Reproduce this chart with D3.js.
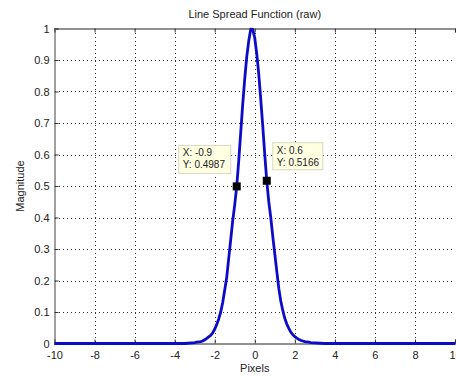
<!DOCTYPE html>
<html><head><meta charset="utf-8">
<script src="https://cdn.jsdelivr.net/npm/d3@7"></script>
<style>
html,body{margin:0;padding:0;background:#fff;}
svg{display:block;}
text{font-family:"Liberation Sans",Arial,sans-serif;fill:#222;}
</style></head>
<body>
<script>
// ---- data ----
const pixels = [-10,-3.5,-3.0,-2.9,-2.8,-2.7,-2.6,-2.5,-2.4,-2.3,-2.2,-2.1,-2.0,-1.9,-1.8,-1.7,-1.6,-1.5,-1.4,-1.3,-1.2,-1.1,-1.0,-0.9,-0.8,-0.7,-0.6,-0.5,-0.4,-0.3,-0.2,-0.1,0.0,0.1,0.2,0.3,0.4,0.5,0.6,0.7,0.8,0.9,1.0,1.1,1.2,1.3,1.4,1.5,1.6,1.7,1.8,1.9,2.0,2.1,2.2,2.3,2.4,2.5,2.6,2.7,2.8,3.5,10];
const magnitude = [0,0,0.003,0.004,0.005,0.006,0.008,0.012,0.016,0.021,0.026,0.034,0.045,0.06,0.078,0.10,0.13,0.17,0.21,0.27,0.33,0.39,0.44,0.4987,0.58,0.67,0.76,0.84,0.91,0.96,0.998,0.997,0.97,0.92,0.855,0.775,0.69,0.60,0.5166,0.45,0.40,0.34,0.285,0.23,0.175,0.135,0.105,0.08,0.062,0.048,0.036,0.028,0.022,0.017,0.013,0.010,0.008,0.006,0.005,0.004,0.003,0,0];
const xTicks = [-10,-8,-6,-4,-2,0,2,4,6,8,10];
const yTicks = [0,0.1,0.2,0.3,0.4,0.5,0.6,0.7,0.8,0.9,1];
const tipX = [-0.9, 0.6];
const tipY = [0.4987, 0.5166];
const title = "Line Spread Function (raw)";
const xLabel = "Pixels";
const yLabel = "Magnitude";

// ---- layout ----
const W = 456, H = 377;
const L = 54.5, R = 455, T = 28.5, B = 343.5;
const svg = d3.select("body").append("svg").attr("width", W).attr("height", H);
const x = d3.scaleLinear().domain([-10, 10]).range([L, R]);
const y = d3.scaleLinear().domain([0, 1]).range([B, T]);

svg.append("rect").attr("x", L).attr("y", T).attr("width", R - L).attr("height", B - T).attr("fill", "#fff");

// grid
const grid = svg.append("g").attr("stroke", "#333").attr("stroke-width", 1).attr("stroke-dasharray", "1,3").attr("shape-rendering", "crispEdges");
grid.selectAll(".gx").data(xTicks.filter(d => d > -10 && d < 10)).enter().append("line")
  .attr("x1", d => Math.round(x(d)) + 0.5).attr("x2", d => Math.round(x(d)) + 0.5).attr("y1", T).attr("y2", B);
grid.selectAll(".gy").data(yTicks.filter(d => d > 0 && d < 1)).enter().append("line")
  .attr("y1", d => Math.round(y(d)) + 0.5).attr("y2", d => Math.round(y(d)) + 0.5).attr("x1", L).attr("x2", R);

// axes
const axCol = "#6e6e6e";
const xAx = svg.append("g").attr("transform", `translate(0,${B})`)
  .call(d3.axisBottom(x).tickValues(xTicks).tickSize(-4).tickPadding(8).tickFormat(d => String(d)));
const xAxTop = svg.append("g").attr("transform", `translate(0,${T})`)
  .call(d3.axisTop(x).tickValues(xTicks).tickSize(-4).tickFormat(""));
const yAx = svg.append("g").attr("transform", `translate(${L},0)`)
  .call(d3.axisLeft(y).tickValues(yTicks).tickSize(-4).tickPadding(5).tickFormat(d => d === 0 || d === 1 ? String(d) : d.toFixed(1)));
[xAx, xAxTop, yAx].forEach(g => {
  g.select(".domain").attr("stroke", axCol).attr("stroke-width", 1.3);
  g.selectAll(".tick line").attr("stroke", "#333");
  g.selectAll("text").attr("font-size", 11).attr("font-family", '"Liberation Sans",Arial,sans-serif').attr("fill", "#222");
});

// line
const line = d3.line().x((d, i) => x(pixels[i])).y((d, i) => y(magnitude[i]));
svg.append("path").datum(magnitude).attr("d", line).attr("fill", "none")
  .attr("stroke", "#0c0cc8").attr("stroke-width", 2.8).attr("stroke-linejoin", "round");

// data tips
const tips = tipX.map((v, i) => ({ x: v, y: tipY[i] }));
const boxOff = [{ dx: -58, dy: -41, w: 52, h: 28 }, { dx: 6, dy: -38, w: 50, h: 27 }];
tips.forEach((t, i) => {
  const px = x(t.x), py = y(t.y), o = boxOff[i];
  const g = svg.append("g");
  g.append("rect").attr("x", px + o.dx).attr("y", py + o.dy).attr("width", o.w).attr("height", o.h)
    .attr("fill", "#ffffe1").attr("stroke", "#d8d8c0").attr("stroke-width", 1);
  g.append("text").attr("x", px + o.dx + 4).attr("y", py + o.dy + 11).attr("font-size", 10).text("X: " + t.x);
  g.append("text").attr("x", px + o.dx + 4).attr("y", py + o.dy + 23).attr("font-size", 10).text("Y: " + t.y);
  g.append("rect").attr("x", px - 4).attr("y", py - 4).attr("width", 8).attr("height", 8).attr("fill", "#000");
});

// labels
svg.append("text").attr("x", (L + R) / 2).attr("y", 18).attr("text-anchor", "middle").attr("font-size", 11).text(title);
svg.append("text").attr("x", (L + R) / 2).attr("y", 372).attr("text-anchor", "middle").attr("font-size", 11).text(xLabel);
svg.append("text").attr("transform", `translate(24,${(T + B) / 2}) rotate(-90)`).attr("text-anchor", "middle").attr("font-size", 11).text(yLabel);
</script>
</body></html>
